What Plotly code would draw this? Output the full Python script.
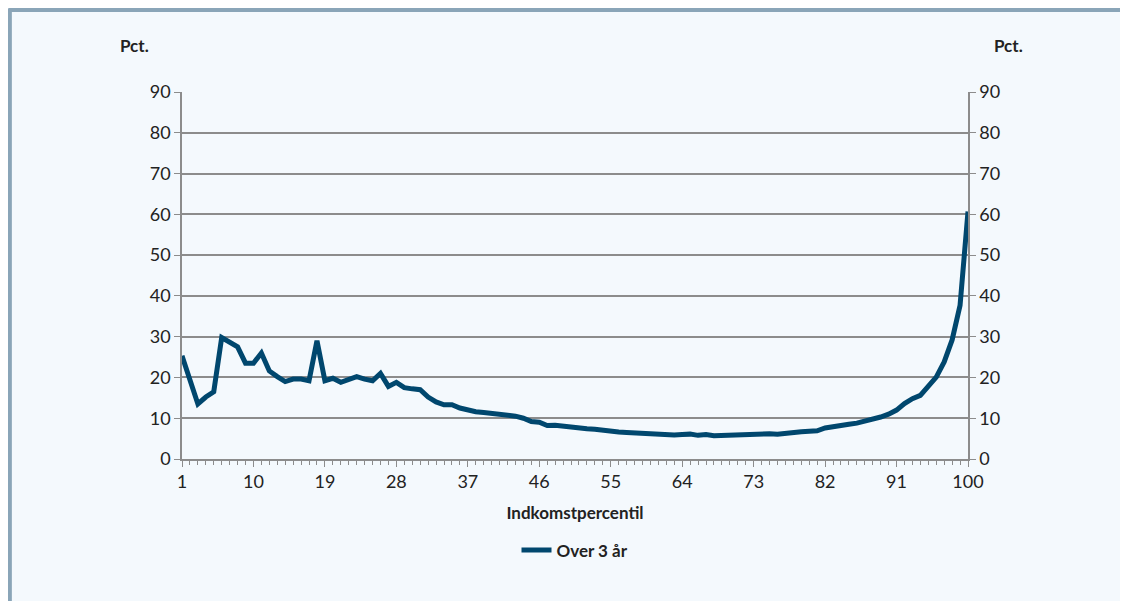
import plotly.graph_objects as go

percentile = list(range(1, 101))
over_3_aar = [
    25.3, 19.5, 13.5, 15.2, 16.5, 29.8, 28.8, 27.5, 23.5, 23.5,
    26.0, 21.6, 20.2, 19.0, 19.6, 19.6, 19.2, 29.0, 19.2, 19.8,
    18.8, 19.4, 20.2, 19.6, 19.2, 21.0, 17.8, 18.8, 17.5, 17.2,
    17.0, 15.2, 14.0, 13.3, 13.3, 12.5, 11.9, 11.6, 11.4, 11.2,
    11.0, 11.0, 10.5, 10.0, 9.2, 9.0, 8.2, 8.3, 8.0, 7.7,
    7.5, 7.4, 7.3, 7.0, 6.7, 6.6, 6.5, 6.4, 6.2, 6.0,
    6.1, 6.0, 5.9, 6.0, 6.1, 5.8, 6.0, 5.7, 5.8, 5.8,
    6.0, 5.9, 5.9, 6.0, 6.2, 6.1, 6.4, 6.4, 6.7, 6.8,
    6.9, 7.6, 7.8, 8.1, 8.5, 8.8, 9.2, 9.8, 10.3, 11.0,
    12.0, 13.6, 14.8, 15.6, 17.7, 20.1, 23.8, 29.2, 37.7, 60.7,
]
tick_vals = list(range(1, 101, 9))
y_ticks = list(range(0, 91, 10))

font = "Lato, Open Sans, sans-serif"
fig = go.Figure()
fig.add_trace(go.Scatter(
    x=percentile, y=over_3_aar, mode='lines', name='<b>Over 3 år</b>',
    line=dict(color='#00476e', width=5)
))
# invisible trace so the right axis is drawn
fig.add_trace(go.Scatter(
    x=percentile, y=over_3_aar, mode='lines', yaxis='y2',
    line=dict(color='rgba(0,0,0,0)'), showlegend=False, hoverinfo='skip'
))

axis_y = dict(
    range=[0, 90], tickvals=y_ticks, showgrid=True, gridcolor='#8c8c8c',
    gridwidth=1.5, showline=True, linecolor='#8c8c8c', linewidth=1.5,
    ticks='outside', ticklen=6, tickcolor='#8c8c8c',
    tickfont=dict(size=18, color='#222'), zeroline=False
)
fig.update_layout(
    width=1128, height=601,
    paper_bgcolor='#f4f9fd', plot_bgcolor='#f4f9fd',
    margin=dict(l=174, r=168, t=84, b=150, autoexpand=False),
    font=dict(family=font, color='#222'),
    xaxis=dict(
        range=[1, 100], tickvals=tick_vals, showgrid=False,
        showline=True, linecolor='#8c8c8c', linewidth=1.5,
        ticks='outside', ticklen=6, tickcolor='#8c8c8c',
        minor=dict(dtick=1, tick0=1, ticks='outside', ticklen=4, tickcolor='#8c8c8c'),
        tickfont=dict(size=18, color='#222'), zeroline=False,
        title=dict(text='<b>Indkomstpercentil</b>', font=dict(size=17), standoff=16)
    ),
    yaxis=axis_y,
    yaxis2=dict(axis_y, overlaying='y', side='right'),
    legend=dict(orientation='h', x=0.5, xanchor='center', y=-0.2, yanchor='top',
                font=dict(size=17, family=font), bgcolor='rgba(0,0,0,0)'),
    showlegend=True,
    annotations=[
        dict(text='<b>Pct.</b>', xref='paper', yref='paper', x=-0.04, y=1.16,
             showarrow=False, xanchor='right', font=dict(size=17)),
        dict(text='<b>Pct.</b>', xref='paper', yref='paper', x=1.03, y=1.16,
             showarrow=False, xanchor='left', font=dict(size=17)),
    ],
    shapes=[
        dict(type='line', xref='paper', yref='paper', x0=-0.219, x1=-0.219, y0=-0.4, y1=1.226,
             line=dict(color='#8aa5b8', width=4)),
        dict(type='line', xref='paper', yref='paper', x0=-0.221, x1=1.22, y0=1.2234, y1=1.2234,
             line=dict(color='#8aa5b8', width=4)),
    ],
)
fig.write_html("out.html")
